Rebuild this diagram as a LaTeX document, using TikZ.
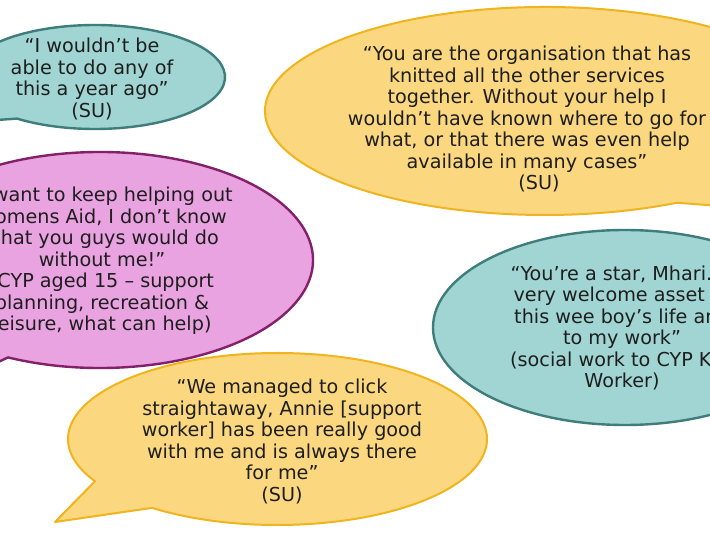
\documentclass[tikz,border=0pt]{standalone}
\usepackage{fontspec}
\setmainfont{DejaVu Sans}
\definecolor{tealfill}{HTML}{A0D5D3}
\definecolor{tealline}{HTML}{3E7D7A}
\definecolor{pinkfill}{HTML}{E9A3E1}
\definecolor{pinkline}{HTML}{82206A}
\definecolor{yelfill}{HTML}{FBD87F}
\definecolor{yelline}{HTML}{F0B41E}
\definecolor{txtcol}{HTML}{1E1E1E}
\begin{document}
\begin{tikzpicture}[x=1pt,y=1pt,
  bubtxt/.style={align=center, text=txtcol, font=\fontsize{19.2}{21.5}\selectfont, inner sep=0pt},
  tealbub/.style={fill=tealfill, draw=tealline, line width=2.4pt, line join=round},
  pinkbub/.style={fill=pinkfill, draw=pinkline, line width=2.4pt, line join=round},
  yelbub/.style={fill=yelfill, draw=yelline, line width=2pt, line join=round}]
\useasboundingbox (0,0) rectangle (710,544);
\clip (0,0) rectangle (710,544);
\fill[white] (0,0) rectangle (710,544);
% top-left teal bubble
\draw[tealbub] (95,467) ++(233.13:130pt and 52pt)
  arc[start angle=233.13, end angle=560, x radius=130pt, y radius=52pt]
  -- (-60,420) -- cycle;
% pink bubble
\draw[pinkbub] (100,284) ++(244.4:213pt and 108pt)
  arc[start angle=244.4, end angle=565, x radius=213pt, y radius=108pt]
  -- (-50,159) -- cycle;
% top yellow bubble
\draw[yelbub] (545,433) ++(-25:280pt and 104pt)
  arc[start angle=-25, end angle=298.1, x radius=280pt, y radius=104pt]
  -- (800,332) -- cycle;
% right teal bubble
\draw[tealbub] (625,216.5) ellipse[x radius=192pt, y radius=97.5pt];
% bottom yellow bubble
\draw[yelbub] (277.5,105) ++(233.2:209.5pt and 86pt)
  arc[start angle=233.2, end angle=569.4, x radius=209.5pt, y radius=86pt]
  -- (55,22) -- cycle;
% texts
\node[bubtxt] (q1) at (92,465) {“I wouldn’t be\\able to do any of\\this a year ago”\\(SU)};
\node[bubtxt] (q2) at (102,283) {“I want to keep helping out\\Womens Aid, I don’t know\\what you guys would do\\without me!”\\(CYP aged 15 – support\\planning, recreation \&\\leisure, what can help)};
\node[bubtxt] (q3) at (527,425) {“You are the organisation that has\\knitted all the other services\\together. Without your help I\\wouldn’t have known where to go for\\what, or that there was even help\\available in many cases”\\\hspace*{24pt}(SU)};
\node[bubtxt] (q4) at (622,216) {“You’re a star, Mhari. A\\very welcome asset to\\this wee boy’s life and\\to my work”\\(social work to CYP Key\\Worker)};
\node[bubtxt] (q5) at (282,102.5) {“We managed to click\\straightaway, Annie [support\\worker] has been really good\\with me and is always there\\for me”\\(SU)};
\end{tikzpicture}
\end{document}
